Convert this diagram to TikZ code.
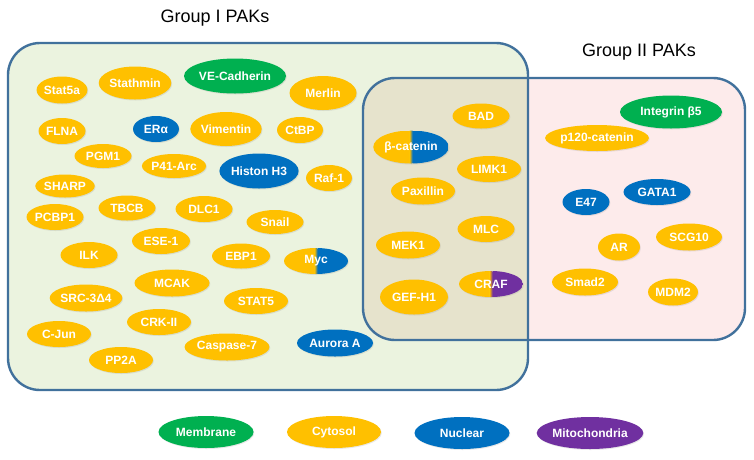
\documentclass[tikz,border=0pt]{standalone}
\usepackage{fontspec}
\setmainfont{Liberation Sans}
\usetikzlibrary{shapes.geometric,shadows}
\definecolor{cyt}{HTML}{FFC000}
\definecolor{mem}{HTML}{00B050}
\definecolor{nuc}{HTML}{0070C0}
\definecolor{mit}{HTML}{7030A0}
\definecolor{boxline}{HTML}{41719C}
\definecolor{gfill}{HTML}{EBF3DF}
\definecolor{pfill}{HTML}{FDEBEB}
\definecolor{ofill}{HTML}{E6E3CC}
\tikzset{
  prot/.style={ellipse, inner sep=0pt, text=white, font=\bfseries\fontsize{12}{12}\selectfont,
    drop shadow={opacity=0.18, shadow xshift=0.8pt, shadow yshift=-1pt}},
  sz/.style 2 args={minimum width=#1pt, minimum height=#2pt},
  cytb/.style={prot, fill=cyt},
  memb/.style={prot, fill=mem},
  nucb/.style={prot, fill=nuc},
  mitb/.style={prot, fill=mit},
  split/.style 2 args={prot, path picture={
      \fill[#1] (path picture bounding box.south west) rectangle ([xshift=-1.5pt]path picture bounding box.north);
      \shade[left color=#1, right color=#2] ([xshift=-1.5pt]path picture bounding box.south) rectangle ([xshift=1.5pt]path picture bounding box.north);
      \fill[#2] ([xshift=1.5pt]path picture bounding box.north) rectangle (path picture bounding box.south east);}},
  grp/.style={draw=boxline, line width=2.4pt, rounded corners=32pt},
  title/.style={font=\fontsize{18}{18}\selectfont, text=black}
}
\begin{document}
\begin{tikzpicture}[x=1pt,y=-1pt]
\useasboundingbox (0,0) rectangle (754,459);
% group boxes
\fill[gfill, rounded corners=32pt] (8,43) rectangle (528,390);
\fill[pfill, rounded corners=32pt] (363,78) rectangle (745,340);
\begin{scope}
  \clip[rounded corners=32pt] (8,43) rectangle (528,390);
  \fill[ofill, rounded corners=32pt] (363,78) rectangle (745,340);
\end{scope}
\draw[grp] (8,43) rectangle (528,390);
\draw[grp] (363,78) rectangle (745,340);
\node[title] (t1) at (215,18) {Group I PAKs};
\node[title] (t2) at (639,52) {Group II PAKs};
% Group I
\node[cytb, sz={46}{27}] (stat5a) at (62,90) {Stat5a};
\node[cytb, sz={71}{33}] (stathmin) at (135,83) {Stathmin};
\node[memb, sz={102}{35}] (vecad) at (235,76) {VE-Cadherin};
\node[cytb, sz={67}{34}] (merlin) at (323,93) {Merlin};
\node[cytb, sz={47}{26}] (flna) at (62,131) {FLNA};
\node[nucb, sz={46}{26}] (era) at (156,129) {ER\char"03B1};
\node[cytb, sz={68}{34}] (vim) at (226,129) {Vimentin};
\node[cytb, sz={46}{26}] (ctbp) at (300,130) {CtBP};
\node[cytb, sz={57}{24}] (pgm1) at (103,156) {PGM1};
\node[cytb, sz={57}{24}] (p41) at (174,166) {P41-Arc};
\node[nucb, sz={69}{35}] (histon) at (259,171) {Histon H3};
\node[cytb, sz={46}{26}] (raf1) at (329,178) {Raf-1};
\node[cytb, sz={57}{23}] (sharp) at (65,186) {SHARP};
\node[cytb, sz={57}{26}] (pcbp1) at (55,217) {PCBP1};
\node[cytb, sz={57}{25}] (tbcb) at (127,208) {TBCB};
\node[cytb, sz={57}{26}] (dlc1) at (204,209) {DLC1};
\node[cytb, sz={57}{24}] (snail) at (275,222) {Snail};
\node[cytb, sz={58}{26}] (ese1) at (161,241) {ESE-1};
\node[cytb, sz={57}{26}] (ilk) at (89,255) {ILK};
\node[cytb, sz={58}{25}] (ebp1) at (241,256) {EBP1};
\node[split={cyt}{nuc}, sz={64}{26}] (myc) at (316,261) {Myc};
\node[cytb, sz={75}{27}] (mcak) at (172,283) {MCAK};
\node[cytb, sz={64}{27}] (src) at (86,298) {SRC-3\char"0394 4};
\node[cytb, sz={64}{26}] (stat5) at (256,301) {STAT5};
\node[cytb, sz={64}{26}] (crk) at (159,322) {CRK-II};
\node[cytb, sz={64}{26}] (cjun) at (59,334) {C-Jun};
\node[cytb, sz={75}{27}] (casp) at (227,347) {Caspase-7};
\node[nucb, sz={76}{27}] (aurora) at (335,343) {Aurora A};
\node[cytb, sz={64}{26}] (pp2a) at (121,360) {PP2A};
% overlap
\node[cytb, sz={57}{25}] (bad) at (481,116) {BAD};
\node[split={cyt}{nuc}, sz={73}{33}] (bcat) at (411,147) {\char"03B2-catenin};
\node[cytb, sz={64}{26}] (limk1) at (489,169) {LIMK1};
\node[cytb, sz={64}{27}] (pax) at (423,191) {Paxillin};
\node[cytb, sz={57}{26}] (mlc) at (486,229) {MLC};
\node[cytb, sz={64}{27}] (mek1) at (408,245) {MEK1};
\node[cytb, sz={68}{35}] (gefh1) at (414,297) {GEF-H1};
\node[split={cyt}{mit}, sz={64}{26}] (craf) at (491,284) {CRAF};
% Group II
\node[memb, sz={102}{33}] (itgb5) at (671,112) {Integrin \char"03B2 5};
\node[cytb, sz={99}{26}] (p120) at (597,138) {p120-catenin};
\node[nucb, sz={47}{26}] (e47) at (586,202) {E47};
\node[nucb, sz={67}{26}] (gata1) at (657,192) {GATA1};
\node[cytb, sz={42}{27}] (ar) at (619,247) {AR};
\node[cytb, sz={66}{27}] (scg10) at (689,237) {SCG10};
\node[cytb, sz={66}{27}] (smad2) at (585,282) {Smad2};
\node[cytb, sz={42}{27}] (mdm2) at (673,292) {MDM2};
% legend
\node[memb, sz={95}{32}] (lmem) at (206,432) {Membrane};
\node[cytb, sz={94}{32}] (lcyt) at (334,432) {Cytosol};
\node[nucb, sz={95}{32}] (lnuc) at (462,433) {Nuclear};
\node[mitb, sz={95}{32}] (lmit) at (590,433) {Mitochondria};
\end{tikzpicture}
\end{document}
